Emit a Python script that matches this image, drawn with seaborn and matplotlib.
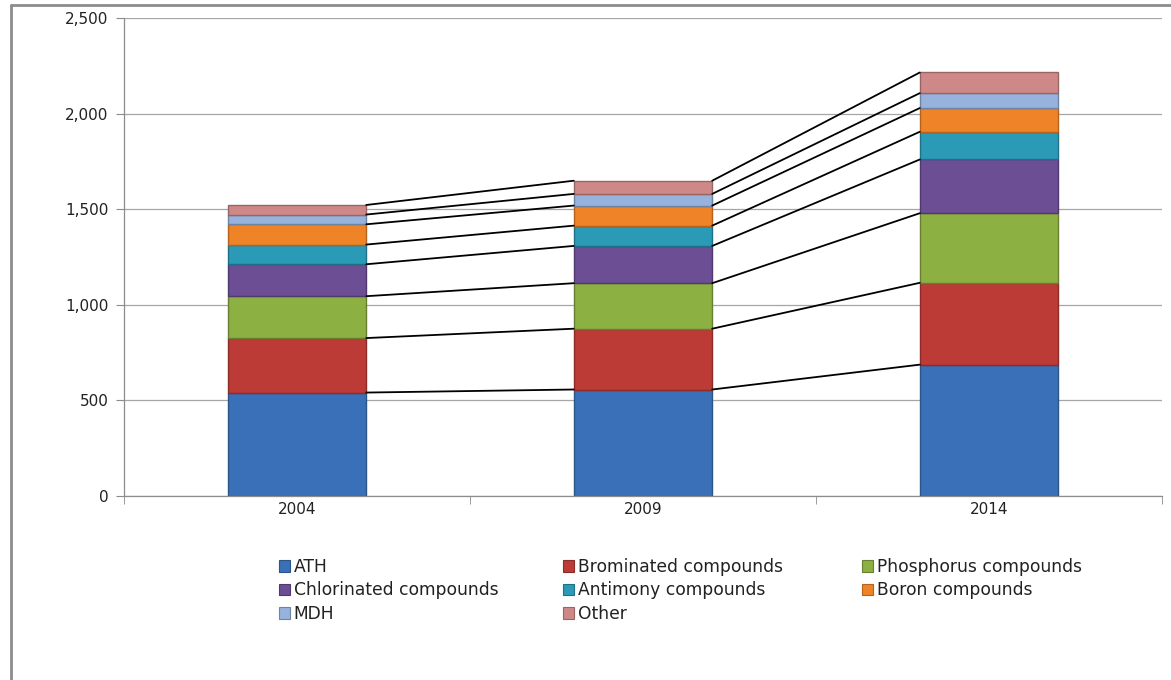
import matplotlib
matplotlib.use("Agg")
import matplotlib.pyplot as plt
import seaborn as sns
import numpy as np
import pandas as pd
from matplotlib.lines import Line2D
from matplotlib.patches import Patch
from matplotlib.ticker import FuncFormatter, FixedLocator

years = ["2004", "2009", "2014"]
series = ["ATH", "Brominated compounds", "Phosphorus compounds", "Chlorinated compounds",
          "Antimony compounds", "Boron compounds", "MDH", "Other"]
ath = [541, 557, 687]
brominated = [285, 318, 428]
phosphorus = [219, 238, 364]
chlorinated = [167, 195, 281]
antimony = [103, 106, 145]
boron = [106, 105, 124]
mdh = [51, 61, 78]
other = [50, 69, 108]
values = [ath, brominated, phosphorus, chlorinated, antimony, boron, mdh, other]
colors = ["#3A70B8", "#BC3B37", "#8DB043", "#6C4E95", "#2B9AB6", "#EE8427", "#97B2DC", "#CF8888"]
edges = ["#2B5487", "#8C2B28", "#687F32", "#4F396D", "#1F7086", "#B5631C", "#6F84A3", "#986565"]

sns.set_style("white")
fig = plt.figure(figsize=(11.71, 6.80), dpi=100)
ax = fig.add_axes([124/1171, 1-496/680, (1162-124)/1171, (496-18)/680])

bottom = np.zeros(3)
tops = []
for name, vals, c, ec in zip(series, values, colors, edges):
    sns.barplot(x=years, y=vals, bottom=bottom, color=c, width=0.4, ax=ax,
                edgecolor=ec, linewidth=1.0, saturation=1)
    bottom = bottom + np.array(vals)
    tops.append(bottom.copy())

# connector lines between bars
for cum in tops:
    for i in range(len(years) - 1):
        ax.plot([i + 0.2, i + 0.8], [cum[i], cum[i + 1]], color="black", lw=1.3, zorder=3)

if ax.get_legend() is not None:
    ax.get_legend().remove()

ax.set_xlim(-0.5, 2.5)
ax.set_ylim(0, 2500)
ax.set_yticks(np.arange(0, 2501, 500))
ax.yaxis.set_major_formatter(FuncFormatter(lambda v, p: f"{int(v):,}"))
ax.set_axisbelow(True)
ax.yaxis.grid(True, color="#A6A6A6", lw=0.9)
ax.xaxis.grid(False)
for s in ["top", "right"]:
    ax.spines[s].set_visible(False)
for s in ["left", "bottom"]:
    ax.spines[s].set_color("#8C8C8C")
    ax.spines[s].set_linewidth(0.9)
ax.set_xlabel("")
ax.set_ylabel("")
ax.tick_params(axis="y", which="major", length=6, color="#8C8C8C", labelsize=11,
               labelcolor="#222222", pad=5, direction="out", left=True)
ax.tick_params(axis="x", which="major", length=0, labelsize=11, labelcolor="#222222", pad=4)
ax.xaxis.set_minor_locator(FixedLocator([-0.5, 0.5, 1.5, 2.5]))
ax.tick_params(axis="x", which="minor", length=6, color="#8C8C8C", direction="out", bottom=True)

# legend: three columns, row-major order
columns = [[0, 3, 6], [1, 4, 7], [2, 5]]
col_x = [279, 563, 862]
for idxs, x0 in zip(columns, col_x):
    handles = [Patch(facecolor=colors[k], edgecolor=edges[k], lw=0.8) for k in idxs]
    labels = [series[k] for k in idxs]
    fig.legend(handles, labels, ncol=1, loc="upper left", bbox_to_anchor=(x0/1171, 1-558/680),
               frameon=False, fontsize=12.3, handlelength=0.65, handleheight=0.65,
               handletextpad=0.2, labelspacing=0.32, borderaxespad=0, borderpad=0,
               labelcolor="#222222")

# outer chart frame
fig.add_artist(Line2D([11/1171, 11/1171], [0, 1-5/680], color="#8C8C8C", lw=2))
fig.add_artist(Line2D([11/1171, 1], [1-5/680, 1-5/680], color="#8C8C8C", lw=2))

fig.savefig("out.png", dpi=100)
